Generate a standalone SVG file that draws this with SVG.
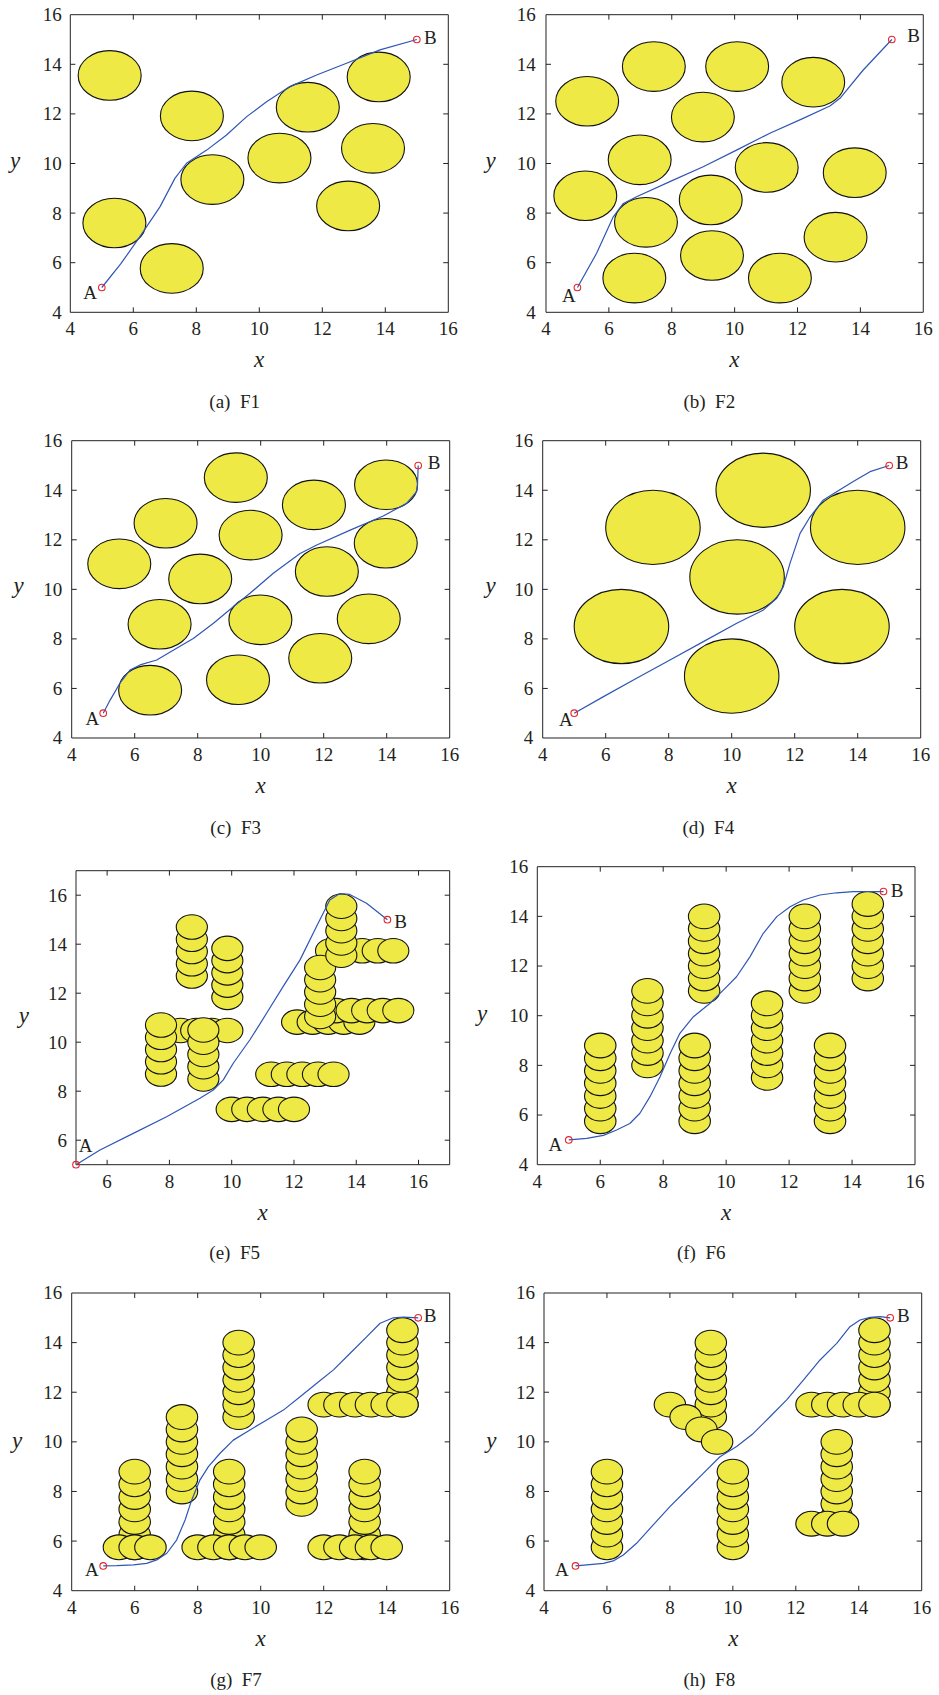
<svg xmlns="http://www.w3.org/2000/svg" xmlns:xlink="http://www.w3.org/1999/xlink" width="939" height="1695" viewBox="0 0 939 1695">
<style>
.o{fill:#EEE944;stroke:#111;stroke-width:1.1;vector-effect:non-scaling-stroke}
.p{fill:none;stroke:#2F56B4;stroke-width:1.2;stroke-linejoin:round;vector-effect:non-scaling-stroke}
.fr{fill:none;stroke:#222;stroke-width:1;vector-effect:non-scaling-stroke}
.mk{fill:none;stroke:#E8242B;stroke-width:1.1}
text{font-family:"Liberation Serif","Times New Roman",serif;fill:#231F20}
.tk{font-size:19px}
.ty{text-anchor:end}
.tx{text-anchor:middle}
.ax{font-size:23px;font-style:italic;text-anchor:middle}
.cap{font-size:19px;text-anchor:middle}
.lb{font-size:19px}
</style>
<defs>
<path id="tk416" fill="none" stroke="#222" stroke-width="1" vector-effect="non-scaling-stroke" d="M6 4v0.2M8 4v0.2M10 4v0.2M12 4v0.2M14 4v0.2M6 16v-0.2M8 16v-0.2M10 16v-0.2M12 16v-0.2M14 16v-0.2M4 6h0.16M4 8h0.16M4 10h0.16M4 12h0.16M4 14h0.16M16 6h-0.16M16 8h-0.16M16 10h-0.16M16 12h-0.16M16 14h-0.16"/>
<path id="tk517" fill="none" stroke="#222" stroke-width="1" vector-effect="non-scaling-stroke" d="M6 5v0.2M8 5v0.2M10 5v0.2M12 5v0.2M14 5v0.2M16 5v0.2M6 17v-0.2M8 17v-0.2M10 17v-0.2M12 17v-0.2M14 17v-0.2M16 17v-0.2M5 6h0.16M5 8h0.16M5 10h0.16M5 12h0.16M5 14h0.16M5 16h0.16M17 6h-0.16M17 8h-0.16M17 10h-0.16M17 12h-0.16M17 14h-0.16M17 16h-0.16"/>
</defs>

<!-- Panel (a) F1 -->
<g id="panel-a">
<g id="a-plot" transform="matrix(31.5 0 0 -24.8 -55.7 411.5)">
<rect class="fr" x="4" y="4" width="12" height="12"/>
<use xlink:href="#tk416"/>
<g id="a-obstacles">
<circle class="o" cx="5.25" cy="13.55" r="1"/>
<circle class="o" cx="7.86" cy="11.92" r="1"/>
<circle class="o" cx="5.4" cy="7.6" r="1"/>
<circle class="o" cx="7.22" cy="5.77" r="1"/>
<circle class="o" cx="8.51" cy="9.35" r="1"/>
<circle class="o" cx="10.64" cy="10.22" r="1"/>
<circle class="o" cx="11.54" cy="12.27" r="1"/>
<circle class="o" cx="13.79" cy="13.49" r="1"/>
<circle class="o" cx="13.61" cy="10.61" r="1"/>
<circle class="o" cx="12.82" cy="8.29" r="1"/>
</g>
<g id="a-connectors">
<path class="p" d="M5 5L5.6 5.95 6.21 7.05 6.85 8.26 7.32 9.4 7.69 10.01 8.33 10.54 8.96 11.15 9.6 11.89 10.23 12.49 10.97 13.1 11.82 13.57 12.77 14.04 13.83 14.58 15 15"/>
</g>
</g>
<circle class="mk" cx="101.8" cy="287.5" r="3.3"/>
<circle class="mk" cx="416.8" cy="39.5" r="3.3"/>
<text class="lb ty" x="97" y="299">A</text>
<text class="lb" x="424" y="44.3">B</text>
<g class="tk tx"><text x="70.3" y="335">4</text><text x="133.3" y="335">6</text><text x="196.3" y="335">8</text><text x="259.3" y="335">10</text><text x="322.3" y="335">12</text><text x="385.3" y="335">14</text><text x="448.3" y="335">16</text></g>
<g class="tk ty"><text x="61.7" y="318.7">4</text><text x="61.7" y="269.1">6</text><text x="61.7" y="219.5">8</text><text x="61.7" y="169.9">10</text><text x="61.7" y="120.3">12</text><text x="61.7" y="70.7">14</text><text x="61.7" y="21.1">16</text></g>
<text class="ax" x="259" y="366.7">x</text>
<text class="ax" x="15" y="168">y</text>
<text class="cap" x="234.7" y="408.3">(a)&#160; F1</text>
</g>

<!-- Panel (b) F2 -->
<g id="panel-b">
<g id="b-plot" transform="matrix(31.44 0 0 -24.8 420.23 411.5)">
<rect class="fr" x="4" y="4" width="12" height="12"/>
<use xlink:href="#tk416"/>
<g id="b-obstacles">
<circle class="o" cx="5.31" cy="12.51" r="1"/>
<circle class="o" cx="7.43" cy="13.91" r="1"/>
<circle class="o" cx="10.08" cy="13.91" r="1"/>
<circle class="o" cx="12.5" cy="13.28" r="1"/>
<circle class="o" cx="8.99" cy="11.87" r="1"/>
<circle class="o" cx="6.98" cy="10.15" r="1"/>
<circle class="o" cx="5.25" cy="8.7" r="1"/>
<circle class="o" cx="7.18" cy="7.63" r="1"/>
<circle class="o" cx="9.24" cy="8.53" r="1"/>
<circle class="o" cx="11.02" cy="9.84" r="1"/>
<circle class="o" cx="13.82" cy="9.63" r="1"/>
<circle class="o" cx="13.21" cy="7.03" r="1"/>
<circle class="o" cx="9.28" cy="6.29" r="1"/>
<circle class="o" cx="11.44" cy="5.38" r="1"/>
<circle class="o" cx="6.81" cy="5.38" r="1"/>
</g>
<g id="b-connectors">
<path class="p" d="M5 5L5.61 6.38 6.14 7.85 6.46 8.39 6.88 8.66 7.94 9.27 9 9.87 10.06 10.54 11.12 11.22 12.18 11.82 13.03 12.32 13.35 12.63 14.09 13.77 15 15"/>
</g>
</g>
<circle class="mk" cx="577.4" cy="287.5" r="3.3"/>
<circle class="mk" cx="891.8" cy="39.5" r="3.3"/>
<text class="lb ty" x="575.7" y="302">A</text>
<text class="lb" x="907.3" y="41.7">B</text>
<g class="tk tx"><text x="546" y="335">4</text><text x="608.9" y="335">6</text><text x="671.8" y="335">8</text><text x="734.6" y="335">10</text><text x="797.5" y="335">12</text><text x="860.4" y="335">14</text><text x="923.3" y="335">16</text></g>
<g class="tk ty"><text x="535.7" y="318.7">4</text><text x="535.7" y="269.1">6</text><text x="535.7" y="219.5">8</text><text x="535.7" y="169.9">10</text><text x="535.7" y="120.3">12</text><text x="535.7" y="70.7">14</text><text x="535.7" y="21.1">16</text></g>
<text class="ax" x="734.3" y="366.7">x</text>
<text class="ax" x="490.5" y="168">y</text>
<text class="cap" x="709.3" y="408.3">(b)&#160; F2</text>
</g>

<!-- Panel (c) F3 -->
<g id="panel-c">
<g id="c-plot" transform="matrix(31.5 0 0 -24.775 -54.3 837.1)">
<rect class="fr" x="4" y="4" width="12" height="12"/>
<use xlink:href="#tk416"/>
<g id="c-obstacles">
<circle class="o" cx="9.21" cy="14.51" r="1"/>
<circle class="o" cx="6.98" cy="12.67" r="1"/>
<circle class="o" cx="9.68" cy="12.19" r="1"/>
<circle class="o" cx="11.69" cy="13.41" r="1"/>
<circle class="o" cx="13.98" cy="14.22" r="1"/>
<circle class="o" cx="5.51" cy="11.03" r="1"/>
<circle class="o" cx="8.08" cy="10.42" r="1"/>
<circle class="o" cx="12.1" cy="10.72" r="1"/>
<circle class="o" cx="13.97" cy="11.86" r="1"/>
<circle class="o" cx="6.79" cy="8.59" r="1"/>
<circle class="o" cx="9.99" cy="8.77" r="1"/>
<circle class="o" cx="13.43" cy="8.81" r="1"/>
<circle class="o" cx="11.89" cy="7.22" r="1"/>
<circle class="o" cx="9.28" cy="6.35" r="1"/>
<circle class="o" cx="6.49" cy="5.93" r="1"/>
</g>
<g id="c-connectors">
<path class="p" d="M5 5L5.22 5.53 5.53 6.21 5.85 6.74 6.17 6.95 6.7 7.15 7.33 7.62 7.86 8.02 8.5 8.63 9.13 9.3 9.66 9.84 10.4 10.65 11.25 11.45 11.78 11.79 12.84 12.39 13.89 12.96 14.63 13.47 14.95 13.94 14.98 14.28 15 15"/>
</g>
</g>
<circle class="mk" cx="103.2" cy="713.2" r="3.3"/>
<circle class="mk" cx="418.2" cy="465.5" r="3.3"/>
<text class="lb ty" x="99.3" y="725">A</text>
<text class="lb" x="427.7" y="469">B</text>
<g class="tk tx"><text x="71.7" y="761">4</text><text x="134.7" y="761">6</text><text x="197.7" y="761">8</text><text x="260.7" y="761">10</text><text x="323.7" y="761">12</text><text x="386.7" y="761">14</text><text x="449.7" y="761">16</text></g>
<g class="tk ty"><text x="62.3" y="744.4">4</text><text x="62.3" y="694.9">6</text><text x="62.3" y="645.3">8</text><text x="62.3" y="595.8">10</text><text x="62.3" y="546.2">12</text><text x="62.3" y="496.7">14</text><text x="62.3" y="447.1">16</text></g>
<text class="ax" x="260.7" y="792.7">x</text>
<text class="ax" x="18.7" y="593.3">y</text>
<text class="cap" x="235.7" y="834">(c)&#160; F3</text>
</g>

<!-- Panel (d) F4 -->
<g id="panel-d">
<g id="d-plot" transform="matrix(31.5 0 0 -24.775 416.7 837.1)">
<rect class="fr" x="4" y="4" width="12" height="12"/>
<use xlink:href="#tk416"/>
<g id="d-obstacles">
<circle class="o" cx="7.5" cy="12.5" r="1.5"/>
<circle class="o" cx="11" cy="14" r="1.5"/>
<circle class="o" cx="14" cy="12.5" r="1.5"/>
<circle class="o" cx="10.17" cy="10.5" r="1.5"/>
<circle class="o" cx="6.5" cy="8.5" r="1.5"/>
<circle class="o" cx="13.5" cy="8.5" r="1.5"/>
<circle class="o" cx="10" cy="6.5" r="1.5"/>
</g>
<g id="d-connectors">
<path class="p" d="M5 5L5.93 5.67 6.98 6.41 8.04 7.15 9.1 7.89 10.16 8.63 11.01 9.17 11.43 9.64 11.64 10.11 11.85 11.05 12.17 12.26 12.49 12.93 12.91 13.61 13.33 13.94 13.86 14.35 14.39 14.75 15 15"/>
</g>
</g>
<circle class="mk" cx="574.2" cy="713.2" r="3.3"/>
<circle class="mk" cx="889.2" cy="465.5" r="3.3"/>
<text class="lb ty" x="572.7" y="726">A</text>
<text class="lb" x="895.7" y="469">B</text>
<g class="tk tx"><text x="542.7" y="761">4</text><text x="605.7" y="761">6</text><text x="668.7" y="761">8</text><text x="731.7" y="761">10</text><text x="794.7" y="761">12</text><text x="857.7" y="761">14</text><text x="920.7" y="761">16</text></g>
<g class="tk ty"><text x="533.3" y="744.4">4</text><text x="533.3" y="694.9">6</text><text x="533.3" y="645.3">8</text><text x="533.3" y="595.8">10</text><text x="533.3" y="546.2">12</text><text x="533.3" y="496.7">14</text><text x="533.3" y="447.1">16</text></g>
<text class="ax" x="731.7" y="792.7">x</text>
<text class="ax" x="490.5" y="593.3">y</text>
<text class="cap" x="708.3" y="834">(d)&#160; F4</text>
</g>

<!-- Panel (e) F5 -->
<g id="panel-e">
<g id="e-plot" transform="matrix(31.14 0 0 -24.5 -79.7 1287.2)">
<rect class="fr" x="5" y="5" width="12" height="12"/>
<use xlink:href="#tk517"/>
<g id="e-obstacles">
<circle class="o" cx="10" cy="7.26" r="0.5"/><circle class="o" cx="10.5" cy="7.26" r="0.5"/><circle class="o" cx="11" cy="7.26" r="0.5"/><circle class="o" cx="11.5" cy="7.26" r="0.5"/><circle class="o" cx="12" cy="7.26" r="0.5"/>
<circle class="o" cx="11.27" cy="8.69" r="0.5"/><circle class="o" cx="11.77" cy="8.69" r="0.5"/><circle class="o" cx="12.27" cy="8.69" r="0.5"/><circle class="o" cx="12.77" cy="8.69" r="0.5"/><circle class="o" cx="13.27" cy="8.69" r="0.5"/>
<circle class="o" cx="7.86" cy="10.48" r="0.5"/><circle class="o" cx="8.36" cy="10.48" r="0.5"/><circle class="o" cx="8.86" cy="10.48" r="0.5"/><circle class="o" cx="9.36" cy="10.48" r="0.5"/><circle class="o" cx="9.86" cy="10.48" r="0.5"/>
<circle class="o" cx="12.1" cy="10.82" r="0.5"/><circle class="o" cx="12.6" cy="10.82" r="0.5"/><circle class="o" cx="13.1" cy="10.82" r="0.5"/><circle class="o" cx="13.6" cy="10.82" r="0.5"/><circle class="o" cx="14.1" cy="10.82" r="0.5"/>
<circle class="o" cx="13.35" cy="11.29" r="0.5"/><circle class="o" cx="13.85" cy="11.29" r="0.5"/><circle class="o" cx="14.35" cy="11.29" r="0.5"/><circle class="o" cx="14.85" cy="11.29" r="0.5"/><circle class="o" cx="15.35" cy="11.29" r="0.5"/>
<circle class="o" cx="13.19" cy="13.73" r="0.5"/><circle class="o" cx="13.69" cy="13.73" r="0.5"/><circle class="o" cx="14.19" cy="13.73" r="0.5"/><circle class="o" cx="14.69" cy="13.73" r="0.5"/><circle class="o" cx="15.19" cy="13.73" r="0.5"/>
<circle class="o" cx="8.72" cy="12.7" r="0.5"/><circle class="o" cx="8.72" cy="13.2" r="0.5"/><circle class="o" cx="8.72" cy="13.7" r="0.5"/><circle class="o" cx="8.72" cy="14.2" r="0.5"/><circle class="o" cx="8.72" cy="14.7" r="0.5"/>
<circle class="o" cx="9.86" cy="11.83" r="0.5"/><circle class="o" cx="9.86" cy="12.33" r="0.5"/><circle class="o" cx="9.86" cy="12.83" r="0.5"/><circle class="o" cx="9.86" cy="13.33" r="0.5"/><circle class="o" cx="9.86" cy="13.83" r="0.5"/>
<circle class="o" cx="7.73" cy="8.7" r="0.5"/><circle class="o" cx="7.73" cy="9.2" r="0.5"/><circle class="o" cx="7.73" cy="9.7" r="0.5"/><circle class="o" cx="7.73" cy="10.2" r="0.5"/><circle class="o" cx="7.73" cy="10.7" r="0.5"/>
<circle class="o" cx="9.09" cy="8.5" r="0.5"/><circle class="o" cx="9.09" cy="9" r="0.5"/><circle class="o" cx="9.09" cy="9.5" r="0.5"/><circle class="o" cx="9.09" cy="10" r="0.5"/><circle class="o" cx="9.09" cy="10.5" r="0.5"/>
<circle class="o" cx="12.84" cy="11.05" r="0.5"/><circle class="o" cx="12.84" cy="11.55" r="0.5"/><circle class="o" cx="12.84" cy="12.05" r="0.5"/><circle class="o" cx="12.84" cy="12.55" r="0.5"/><circle class="o" cx="12.84" cy="13.05" r="0.5"/>
<circle class="o" cx="13.52" cy="13.55" r="0.5"/><circle class="o" cx="13.52" cy="14.05" r="0.5"/><circle class="o" cx="13.52" cy="14.55" r="0.5"/><circle class="o" cx="13.52" cy="15.05" r="0.5"/><circle class="o" cx="13.52" cy="15.55" r="0.5"/>
</g>
<g id="e-connectors">
<path class="p" d="M5 5L5.77 5.6 6.84 6.28 7.91 6.96 8.98 7.71 9.41 8.05 9.73 8.46 10.05 9.14 10.58 10.09 11.12 11.18 11.65 12.27 12.19 13.35 12.72 14.71 13.15 15.8 13.47 16.07 13.79 16.03 14.33 15.67 15 15"/>
</g>
</g>
<circle class="mk" cx="76" cy="1164.7" r="3.3"/>
<circle class="mk" cx="387.4" cy="919.7" r="3.3"/>
<text class="lb" x="78.7" y="1152">A</text>
<text class="lb" x="394.3" y="927.7">B</text>
<g class="tk tx"><text x="107.1" y="1188.3">6</text><text x="169.4" y="1188.3">8</text><text x="231.7" y="1188.3">10</text><text x="294" y="1188.3">12</text><text x="356.3" y="1188.3">14</text><text x="418.5" y="1188.3">16</text></g>
<g class="tk ty"><text x="67" y="1146.6">6</text><text x="67" y="1097.6">8</text><text x="67" y="1048.6">10</text><text x="67" y="999.6">12</text><text x="67" y="950.6">14</text><text x="67" y="901.6">16</text></g>
<text class="ax" x="262.7" y="1220">x</text>
<text class="ax" x="23.8" y="1022.7">y</text>
<text class="cap" x="234.7" y="1259">(e)&#160; F5</text>
</g>

<!-- Panel (f) F6 -->
<g id="panel-f">
<g id="f-plot" transform="matrix(31.475 0 0 -24.833 411.4 1264.03)">
<rect class="fr" x="4" y="4" width="12" height="12"/>
<use xlink:href="#tk416"/>
<g id="f-obstacles">
<circle class="o" cx="6" cy="5.75" r="0.5"/><circle class="o" cx="6" cy="6.26" r="0.5"/><circle class="o" cx="6" cy="6.77" r="0.5"/><circle class="o" cx="6" cy="7.28" r="0.5"/><circle class="o" cx="6" cy="7.78" r="0.5"/><circle class="o" cx="6" cy="8.29" r="0.5"/><circle class="o" cx="6" cy="8.8" r="0.5"/>
<circle class="o" cx="7.5" cy="8" r="0.5"/><circle class="o" cx="7.5" cy="8.5" r="0.5"/><circle class="o" cx="7.5" cy="9" r="0.5"/><circle class="o" cx="7.5" cy="9.5" r="0.5"/><circle class="o" cx="7.5" cy="10" r="0.5"/><circle class="o" cx="7.5" cy="10.5" r="0.5"/><circle class="o" cx="7.5" cy="11" r="0.5"/>
<circle class="o" cx="9.3" cy="11" r="0.5"/><circle class="o" cx="9.3" cy="11.5" r="0.5"/><circle class="o" cx="9.3" cy="12" r="0.5"/><circle class="o" cx="9.3" cy="12.5" r="0.5"/><circle class="o" cx="9.3" cy="13" r="0.5"/><circle class="o" cx="9.3" cy="13.5" r="0.5"/><circle class="o" cx="9.3" cy="14" r="0.5"/>
<circle class="o" cx="9" cy="5.75" r="0.5"/><circle class="o" cx="9" cy="6.26" r="0.5"/><circle class="o" cx="9" cy="6.77" r="0.5"/><circle class="o" cx="9" cy="7.28" r="0.5"/><circle class="o" cx="9" cy="7.78" r="0.5"/><circle class="o" cx="9" cy="8.29" r="0.5"/><circle class="o" cx="9" cy="8.8" r="0.5"/>
<circle class="o" cx="11.3" cy="7.5" r="0.5"/><circle class="o" cx="11.3" cy="8" r="0.5"/><circle class="o" cx="11.3" cy="8.5" r="0.5"/><circle class="o" cx="11.3" cy="9" r="0.5"/><circle class="o" cx="11.3" cy="9.5" r="0.5"/><circle class="o" cx="11.3" cy="10" r="0.5"/><circle class="o" cx="11.3" cy="10.5" r="0.5"/>
<circle class="o" cx="12.5" cy="11" r="0.5"/><circle class="o" cx="12.5" cy="11.5" r="0.5"/><circle class="o" cx="12.5" cy="12" r="0.5"/><circle class="o" cx="12.5" cy="12.5" r="0.5"/><circle class="o" cx="12.5" cy="13" r="0.5"/><circle class="o" cx="12.5" cy="13.5" r="0.5"/><circle class="o" cx="12.5" cy="14" r="0.5"/>
<circle class="o" cx="14.5" cy="11.5" r="0.5"/><circle class="o" cx="14.5" cy="12" r="0.5"/><circle class="o" cx="14.5" cy="12.5" r="0.5"/><circle class="o" cx="14.5" cy="13" r="0.5"/><circle class="o" cx="14.5" cy="13.5" r="0.5"/><circle class="o" cx="14.5" cy="14" r="0.5"/><circle class="o" cx="14.5" cy="14.5" r="0.5"/>
<circle class="o" cx="13.3" cy="5.75" r="0.5"/><circle class="o" cx="13.3" cy="6.26" r="0.5"/><circle class="o" cx="13.3" cy="6.77" r="0.5"/><circle class="o" cx="13.3" cy="7.28" r="0.5"/><circle class="o" cx="13.3" cy="7.78" r="0.5"/><circle class="o" cx="13.3" cy="8.29" r="0.5"/><circle class="o" cx="13.3" cy="8.8" r="0.5"/>
</g>
<g id="f-connectors">
<path class="p" d="M5 5L5.57 5.06 6.1 5.18 6.52 5.4 6.94 5.66 7.26 6.07 7.58 6.74 7.9 7.54 8.22 8.48 8.53 9.29 8.96 9.96 9.49 10.5 9.91 11.03 10.33 11.57 10.76 12.38 11.18 13.32 11.61 13.99 12.03 14.39 12.45 14.66 12.98 14.86 13.51 14.95 14.04 15 15 15"/>
</g>
</g>
<circle class="mk" cx="568.8" cy="1139.9" r="3.3"/>
<circle class="mk" cx="883.5" cy="891.5" r="3.3"/>
<text class="lb ty" x="562.3" y="1151">A</text>
<text class="lb" x="890.7" y="897.3">B</text>
<g class="tk tx"><text x="537.3" y="1188.3">4</text><text x="600.2" y="1188.3">6</text><text x="663.2" y="1188.3">8</text><text x="726.1" y="1188.3">10</text><text x="789.1" y="1188.3">12</text><text x="852" y="1188.3">14</text><text x="915" y="1188.3">16</text></g>
<g class="tk ty"><text x="528.3" y="1171.1">4</text><text x="528.3" y="1121.4">6</text><text x="528.3" y="1071.8">8</text><text x="528.3" y="1022.1">10</text><text x="528.3" y="972.4">12</text><text x="528.3" y="922.7">14</text><text x="528.3" y="873.1">16</text></g>
<text class="ax" x="726" y="1220">x</text>
<text class="ax" x="482.2" y="1021">y</text>
<text class="cap" x="701.2" y="1259">(f)&#160; F6</text>
</g>

<!-- Panel (g) F7 -->
<g id="panel-g">
<g id="g-plot" transform="matrix(31.5 0 0 -24.808 -54.3 1689.93)">
<rect class="fr" x="4" y="4" width="12" height="12"/>
<use xlink:href="#tk416"/>
<g id="g-obstacles">
<circle class="o" cx="6" cy="5.75" r="0.5"/><circle class="o" cx="6" cy="6.26" r="0.5"/><circle class="o" cx="6" cy="6.77" r="0.5"/><circle class="o" cx="6" cy="7.28" r="0.5"/><circle class="o" cx="6" cy="7.78" r="0.5"/><circle class="o" cx="6" cy="8.29" r="0.5"/><circle class="o" cx="6" cy="8.8" r="0.5"/>
<circle class="o" cx="5.5" cy="5.75" r="0.5"/><circle class="o" cx="6" cy="5.75" r="0.5"/><circle class="o" cx="6.5" cy="5.75" r="0.5"/>
<circle class="o" cx="7.5" cy="8" r="0.5"/><circle class="o" cx="7.5" cy="8.5" r="0.5"/><circle class="o" cx="7.5" cy="9" r="0.5"/><circle class="o" cx="7.5" cy="9.5" r="0.5"/><circle class="o" cx="7.5" cy="10" r="0.5"/><circle class="o" cx="7.5" cy="10.5" r="0.5"/><circle class="o" cx="7.5" cy="11" r="0.5"/>
<circle class="o" cx="9.3" cy="11" r="0.5"/><circle class="o" cx="9.3" cy="11.5" r="0.5"/><circle class="o" cx="9.3" cy="12" r="0.5"/><circle class="o" cx="9.3" cy="12.5" r="0.5"/><circle class="o" cx="9.3" cy="13" r="0.5"/><circle class="o" cx="9.3" cy="13.5" r="0.5"/><circle class="o" cx="9.3" cy="14" r="0.5"/>
<circle class="o" cx="9" cy="5.75" r="0.5"/><circle class="o" cx="9" cy="6.26" r="0.5"/><circle class="o" cx="9" cy="6.77" r="0.5"/><circle class="o" cx="9" cy="7.28" r="0.5"/><circle class="o" cx="9" cy="7.78" r="0.5"/><circle class="o" cx="9" cy="8.29" r="0.5"/><circle class="o" cx="9" cy="8.8" r="0.5"/>
<circle class="o" cx="8" cy="5.75" r="0.5"/><circle class="o" cx="8.5" cy="5.75" r="0.5"/><circle class="o" cx="9" cy="5.75" r="0.5"/><circle class="o" cx="9.5" cy="5.75" r="0.5"/><circle class="o" cx="10" cy="5.75" r="0.5"/>
<circle class="o" cx="11.3" cy="7.5" r="0.5"/><circle class="o" cx="11.3" cy="8" r="0.5"/><circle class="o" cx="11.3" cy="8.5" r="0.5"/><circle class="o" cx="11.3" cy="9" r="0.5"/><circle class="o" cx="11.3" cy="9.5" r="0.5"/><circle class="o" cx="11.3" cy="10" r="0.5"/><circle class="o" cx="11.3" cy="10.5" r="0.5"/>
<circle class="o" cx="13.3" cy="5.75" r="0.5"/><circle class="o" cx="13.3" cy="6.26" r="0.5"/><circle class="o" cx="13.3" cy="6.77" r="0.5"/><circle class="o" cx="13.3" cy="7.28" r="0.5"/><circle class="o" cx="13.3" cy="7.78" r="0.5"/><circle class="o" cx="13.3" cy="8.29" r="0.5"/><circle class="o" cx="13.3" cy="8.8" r="0.5"/>
<circle class="o" cx="12" cy="5.75" r="0.5"/><circle class="o" cx="12.5" cy="5.75" r="0.5"/><circle class="o" cx="13" cy="5.75" r="0.5"/><circle class="o" cx="13.5" cy="5.75" r="0.5"/><circle class="o" cx="14" cy="5.75" r="0.5"/>
<circle class="o" cx="14.5" cy="11.5" r="0.5"/><circle class="o" cx="14.5" cy="12" r="0.5"/><circle class="o" cx="14.5" cy="12.5" r="0.5"/><circle class="o" cx="14.5" cy="13" r="0.5"/><circle class="o" cx="14.5" cy="13.5" r="0.5"/><circle class="o" cx="14.5" cy="14" r="0.5"/><circle class="o" cx="14.5" cy="14.5" r="0.5"/>
<circle class="o" cx="12" cy="11.5" r="0.5"/><circle class="o" cx="12.5" cy="11.5" r="0.5"/><circle class="o" cx="13" cy="11.5" r="0.5"/><circle class="o" cx="13.5" cy="11.5" r="0.5"/><circle class="o" cx="14" cy="11.5" r="0.5"/><circle class="o" cx="14.5" cy="11.5" r="0.5"/>
</g>
<g id="g-connectors">
<path class="p" d="M5 5L5.43 5.01 5.96 5.04 6.38 5.1 6.7 5.24 7.02 5.51 7.33 6.04 7.6 6.85 7.81 7.66 8.07 8.46 8.34 9 8.71 9.54 9.13 10.07 9.66 10.48 10.19 10.88 10.72 11.28 11.25 11.82 11.78 12.36 12.31 12.9 12.84 13.57 13.37 14.24 13.79 14.78 14.21 15.0 14.53 15.03 15 15"/>
</g>
</g>
<circle class="mk" cx="103.2" cy="1565.9" r="3.3"/>
<circle class="mk" cx="418.2" cy="1317.8" r="3.3"/>
<text class="lb ty" x="98.7" y="1576.3">A</text>
<text class="lb" x="423.7" y="1322.3">B</text>
<g class="tk tx"><text x="71.7" y="1614.3">4</text><text x="134.7" y="1614.3">6</text><text x="197.7" y="1614.3">8</text><text x="260.7" y="1614.3">10</text><text x="323.7" y="1614.3">12</text><text x="386.7" y="1614.3">14</text><text x="449.7" y="1614.3">16</text></g>
<g class="tk ty"><text x="62.3" y="1597.1">4</text><text x="62.3" y="1547.5">6</text><text x="62.3" y="1497.9">8</text><text x="62.3" y="1448.3">10</text><text x="62.3" y="1398.6">12</text><text x="62.3" y="1349">14</text><text x="62.3" y="1299.4">16</text></g>
<text class="ax" x="260.7" y="1645.7">x</text>
<text class="ax" x="17.2" y="1448.3">y</text>
<text class="cap" x="236" y="1686">(g)&#160; F7</text>
</g>

<!-- Panel (h) F8 -->
<g id="panel-h">
<g id="h-plot" transform="matrix(31.475 0 0 -24.808 418.1 1689.93)">
<rect class="fr" x="4" y="4" width="12" height="12"/>
<use xlink:href="#tk416"/>
<g id="h-obstacles">
<circle class="o" cx="6" cy="5.75" r="0.5"/><circle class="o" cx="6" cy="6.26" r="0.5"/><circle class="o" cx="6" cy="6.77" r="0.5"/><circle class="o" cx="6" cy="7.28" r="0.5"/><circle class="o" cx="6" cy="7.78" r="0.5"/><circle class="o" cx="6" cy="8.29" r="0.5"/><circle class="o" cx="6" cy="8.8" r="0.5"/>
<circle class="o" cx="10" cy="5.75" r="0.5"/><circle class="o" cx="10" cy="6.26" r="0.5"/><circle class="o" cx="10" cy="6.77" r="0.5"/><circle class="o" cx="10" cy="7.28" r="0.5"/><circle class="o" cx="10" cy="7.78" r="0.5"/><circle class="o" cx="10" cy="8.29" r="0.5"/><circle class="o" cx="10" cy="8.8" r="0.5"/>
<circle class="o" cx="9.3" cy="11" r="0.5"/><circle class="o" cx="9.3" cy="11.5" r="0.5"/><circle class="o" cx="9.3" cy="12" r="0.5"/><circle class="o" cx="9.3" cy="12.5" r="0.5"/><circle class="o" cx="9.3" cy="13" r="0.5"/><circle class="o" cx="9.3" cy="13.5" r="0.5"/><circle class="o" cx="9.3" cy="14" r="0.5"/>
<circle class="o" cx="8" cy="11.5" r="0.5"/><circle class="o" cx="8.5" cy="11" r="0.5"/><circle class="o" cx="9" cy="10.5" r="0.5"/><circle class="o" cx="9.5" cy="10" r="0.5"/>
<circle class="o" cx="14.5" cy="11.5" r="0.5"/><circle class="o" cx="14.5" cy="12" r="0.5"/><circle class="o" cx="14.5" cy="12.5" r="0.5"/><circle class="o" cx="14.5" cy="13" r="0.5"/><circle class="o" cx="14.5" cy="13.5" r="0.5"/><circle class="o" cx="14.5" cy="14" r="0.5"/><circle class="o" cx="14.5" cy="14.5" r="0.5"/>
<circle class="o" cx="12.5" cy="11.5" r="0.5"/><circle class="o" cx="13" cy="11.5" r="0.5"/><circle class="o" cx="13.5" cy="11.5" r="0.5"/><circle class="o" cx="14" cy="11.5" r="0.5"/><circle class="o" cx="14.5" cy="11.5" r="0.5"/>
<circle class="o" cx="13.3" cy="7" r="0.5"/><circle class="o" cx="13.3" cy="7.5" r="0.5"/><circle class="o" cx="13.3" cy="8" r="0.5"/><circle class="o" cx="13.3" cy="8.5" r="0.5"/><circle class="o" cx="13.3" cy="9" r="0.5"/><circle class="o" cx="13.3" cy="9.5" r="0.5"/><circle class="o" cx="13.3" cy="10" r="0.5"/>
<circle class="o" cx="12.5" cy="6.7" r="0.5"/><circle class="o" cx="13" cy="6.7" r="0.5"/><circle class="o" cx="13.5" cy="6.7" r="0.5"/>
</g>
<g id="h-connectors">
<path class="p" d="M5 5L5.36 5.04 5.89 5.1 6.2 5.2 6.52 5.44 6.94 5.91 7.47 6.65 8 7.39 8.53 8.06 9.06 8.73 9.59 9.4 10.12 9.81 10.65 10.34 11.18 11.01 11.71 11.69 12.24 12.49 12.77 13.3 13.3 13.97 13.72 14.64 14.04 14.91 14.36 15.02 14.68 15.05 15 15"/>
</g>
</g>
<circle class="mk" cx="575.5" cy="1565.9" r="3.3"/>
<circle class="mk" cx="890.2" cy="1317.8" r="3.3"/>
<text class="lb ty" x="568.7" y="1576.3">A</text>
<text class="lb" x="897" y="1322.3">B</text>
<g class="tk tx"><text x="544" y="1614.3">4</text><text x="606.95" y="1614.3">6</text><text x="669.9" y="1614.3">8</text><text x="732.85" y="1614.3">10</text><text x="795.8" y="1614.3">12</text><text x="858.75" y="1614.3">14</text><text x="921.7" y="1614.3">16</text></g>
<g class="tk ty"><text x="535" y="1597.1">4</text><text x="535" y="1547.5">6</text><text x="535" y="1497.9">8</text><text x="535" y="1448.3">10</text><text x="535" y="1398.6">12</text><text x="535" y="1349">14</text><text x="535" y="1299.4">16</text></g>
<text class="ax" x="733.3" y="1645.7">x</text>
<text class="ax" x="491.3" y="1448.3">y</text>
<text class="cap" x="709.3" y="1686">(h)&#160; F8</text>
</g>
</svg>
